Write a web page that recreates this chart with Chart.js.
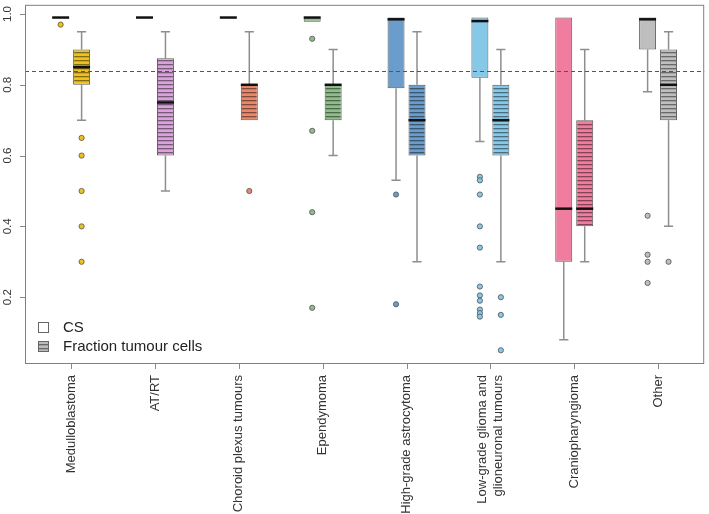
<!DOCTYPE html>
<html><head><meta charset="utf-8">
<script src="https://cdn.jsdelivr.net/npm/chart.js@4/dist/chart.umd.min.js"></script>
<style>html,body{margin:0;padding:0;background:#fff}canvas{display:block}</style>
</head><body>
<canvas id="c" width="709" height="514"></canvas>
<script>
// ---- data ----
const categories = ['Medulloblastoma', 'AT/RT', 'Choroid plexus tumours', 'Ependymoma',
  'High-grade astrocytoma', ['Low-grade glioma and', 'glioneuronal tumours'], 'Craniopharyngioma', 'Other'];
const colors = ['#EEC21E', '#D9A3D9', '#E9896C', '#8DBE8B', '#6A9DCB', '#85C8E8', '#F07CA0', '#BEBEBE'];

// CS series
const csLow    = [0.99, 0.99, 0.99, 0.978, 0.53, 0.64, 0.08, 0.78];
const csQ1     = [0.99, 0.99, 0.99, 0.978, 0.79, 0.82, 0.30, 0.90];
const csMedian = [0.99, 0.99, 0.99, 0.99, 0.985, 0.98, 0.45, 0.985];
const csQ3     = [0.99, 0.99, 0.99, 0.99, 0.99, 0.99, 0.99, 0.99];
const csHigh   = [0.99, 0.99, 0.99, 0.99, 0.99, 0.99, 0.99, 0.99];
const csOutliers = [[0.97], [], [], [0.93, 0.67, 0.44, 0.17], [0.49, 0.18],
  [0.54, 0.53, 0.49, 0.40, 0.34, 0.23, 0.205, 0.19, 0.165, 0.155, 0.145], [], [0.43, 0.32, 0.30, 0.24]];

// Fraction tumour cells series
const fracLow    = [0.70, 0.50, 0.70, 0.60, 0.30, 0.30, 0.30, 0.40];
const fracQ1     = [0.80, 0.60, 0.70, 0.70, 0.60, 0.60, 0.40, 0.70];
const fracMedian = [0.85, 0.75, 0.80, 0.80, 0.70, 0.70, 0.45, 0.80];
const fracQ3     = [0.90, 0.875, 0.80, 0.80, 0.80, 0.80, 0.70, 0.90];
const fracHigh   = [0.95, 0.95, 0.95, 0.90, 0.95, 0.90, 0.90, 0.95];
const fracOutliers = [[0.65, 0.60, 0.50, 0.40, 0.30], [], [0.50], [], [], [0.20, 0.15, 0.05], [], [0.30]];

const yTicks = [0.2, 0.4, 0.6, 0.8, 1.0];
const refLine = 0.84;
const legendLabels = ['CS', 'Fraction tumour cells'];

// ---- helpers ----
const FONT = '"Liberation Sans", Arial, Helvetica, sans-serif';
function hexRgb(h) { const n = parseInt(h.slice(1), 16); return [(n >> 16) & 255, (n >> 8) & 255, n & 255]; }
function hatch(color) {
  const c = document.createElement('canvas'); c.width = 4; c.height = 4;
  const g = c.getContext('2d');
  g.fillStyle = color; g.fillRect(0, 0, 4, 4);
  const [r, gg, b] = hexRgb(color);
  g.fillStyle = `rgb(${Math.round(r * 0.55)},${Math.round(gg * 0.55)},${Math.round(b * 0.55)})`;
  g.fillRect(0, 0, 4, 1.3);
  return g.createPattern(c, 'repeat');
}
function outlierPoints(list, off) {
  const pts = [], cols = [];
  list.forEach((arr, i) => arr.forEach(v => { pts.push({ x: i + off, y: v }); cols.push(colors[i]); }));
  return { pts, cols };
}
const csOut = outlierPoints(csOutliers, -0.125);
const frOut = outlierPoints(fracOutliers, 0.125);

const boxStats = [
  { low: csLow, q1: csQ1, med: csMedian, q3: csQ3, high: csHigh },
  { low: fracLow, q1: fracQ1, med: fracMedian, q3: fracQ3, high: fracHigh }
];

const boxPlugin = {
  id: 'boxParts',
  beforeDatasetsDraw(chart) {
    const ctx = chart.ctx, y = chart.scales.y;
    ctx.save();
    ctx.strokeStyle = '#8e8e8e'; ctx.lineWidth = 1.5;
    boxStats.forEach((s, d) => {
      const meta = chart.getDatasetMeta(d);
      meta.data.forEach((bar, i) => {
        const x = bar.x, hw = bar.width * 0.27;
        const seg = (a, b) => {
          if (Math.abs(a - b) < 1e-9) return;
          const pa = y.getPixelForValue(a), pb = y.getPixelForValue(b);
          ctx.beginPath(); ctx.moveTo(x, pa); ctx.lineTo(x, pb);
          ctx.moveTo(x - hw, pb); ctx.lineTo(x + hw, pb); ctx.stroke();
        };
        seg(s.q3[i], s.high[i]);
        seg(s.q1[i], s.low[i]);
      });
    });
    ctx.restore();
  },
  afterDatasetsDraw(chart) {
    const ctx = chart.ctx, y = chart.scales.y, x = chart.scales.x, a = chart.chartArea;
    ctx.save();
    // medians
    ctx.strokeStyle = '#111'; ctx.lineWidth = 2.5;
    boxStats.forEach((s, d) => {
      chart.getDatasetMeta(d).data.forEach((bar, i) => {
        const py = y.getPixelForValue(s.med[i]);
        ctx.beginPath(); ctx.moveTo(bar.x - bar.width / 2, py); ctx.lineTo(bar.x + bar.width / 2, py); ctx.stroke();
      });
    });
    // reference line
    ctx.strokeStyle = '#555'; ctx.lineWidth = 1; ctx.setLineDash([4, 3]);
    const ry = Math.round(y.getPixelForValue(refLine)) + 0.5;
    ctx.beginPath(); ctx.moveTo(a.left, ry); ctx.lineTo(a.right, ry); ctx.stroke();
    ctx.setLineDash([]);
    // plot frame
    ctx.strokeStyle = '#808080'; ctx.lineWidth = 1;
    ctx.strokeRect(a.left + 0.5, a.top + 0.5, a.right - a.left - 1, a.bottom - a.top);
    // tick marks
    ctx.strokeStyle = '#8a8a8a'; ctx.lineWidth = 1;
    ctx.beginPath();
    yTicks.forEach(v => { const py = Math.round(y.getPixelForValue(v)) + 0.5; ctx.moveTo(a.left - 5, py); ctx.lineTo(a.left, py); });
    categories.forEach((_, i) => { const px = Math.round(x.getPixelForValue(i)) + 0.5; ctx.moveTo(px, a.bottom); ctx.lineTo(px, a.bottom + 6); });
    ctx.stroke();
    // y tick labels (rotated)
    ctx.fillStyle = '#333'; ctx.font = '11.5px ' + FONT;
    ctx.textAlign = 'center'; ctx.textBaseline = 'alphabetic';
    yTicks.forEach(v => {
      ctx.save(); ctx.translate(a.left - 14, y.getPixelForValue(v)); ctx.rotate(-Math.PI / 2);
      ctx.fillText(v.toFixed(1), 0, 0); ctx.restore();
    });
    // x tick labels (rotated)
    ctx.font = '13px ' + FONT; ctx.textAlign = 'right'; ctx.textBaseline = 'middle';
    categories.forEach((lab, i) => {
      const lines = Array.isArray(lab) ? lab : [lab];
      const px = x.getPixelForValue(i), lh = 16;
      lines.forEach((t, k) => {
        ctx.save();
        ctx.translate(px + (k - (lines.length - 1) / 2) * lh, a.bottom + 12);
        ctx.rotate(-Math.PI / 2); ctx.fillText(t, 0, 0); ctx.restore();
      });
    });
    // legend
    const lx = a.left + 13, l1 = a.bottom - 36, l2 = a.bottom - 17;
    ctx.fillStyle = '#fff'; ctx.fillRect(lx, l1 - 5, 10, 10);
    ctx.fillStyle = hatch('#BBBBBB'); ctx.fillRect(lx, l2 - 5, 10, 10);
    ctx.strokeStyle = '#666'; ctx.lineWidth = 1;
    ctx.strokeRect(lx + 0.5, l1 - 4.5, 10, 10);
    ctx.strokeRect(lx + 0.5, l2 - 4.5, 10, 10);
    ctx.fillStyle = '#222'; ctx.font = '15px ' + FONT; ctx.textAlign = 'left'; ctx.textBaseline = 'middle';
    ctx.fillText(legendLabels[0], lx + 25, l1 + 1);
    ctx.fillText(legendLabels[1], lx + 25, l2 + 1);
    ctx.restore();
  }
};

new Chart(document.getElementById('c'), {
  type: 'bar',
  data: {
    datasets: [
      { type: 'bar', label: legendLabels[0],
        data: categories.map((_, i) => ({ x: i, y: [csQ1[i], csQ3[i]] })),
        backgroundColor: colors, borderColor: '#5a5a5a', borderWidth: 1, borderSkipped: false,
        categoryPercentage: 0.5, barPercentage: 0.81 },
      { type: 'bar', label: legendLabels[1],
        data: categories.map((_, i) => ({ x: i, y: [fracQ1[i], fracQ3[i]] })),
        backgroundColor: colors.map(hatch), borderColor: '#5a5a5a', borderWidth: 1, borderSkipped: false,
        categoryPercentage: 0.5, barPercentage: 0.81 },
      { type: 'scatter', label: 'CS outliers', data: csOut.pts,
        pointBackgroundColor: csOut.cols, pointBorderColor: '#505050', pointBorderWidth: 0.8, pointRadius: 2.6 },
      { type: 'scatter', label: 'Fraction outliers', data: frOut.pts,
        pointBackgroundColor: frOut.cols, pointBorderColor: '#505050', pointBorderWidth: 0.8, pointRadius: 2.6 }
    ]
  },
  options: {
    responsive: false, animation: false, devicePixelRatio: 1,
    layout: { padding: { left: 0, right: 3, top: 2, bottom: 0 } },
    plugins: { legend: { display: false }, tooltip: { enabled: false } },
    scales: {
      x: {
        type: 'linear', min: -0.55, max: 7.55, offset: false,
        grid: { display: false, offset: false },
        border: { display: false },
        ticks: { display: false },
        afterBuildTicks: s => { s.ticks = categories.map((_, i) => ({ value: i })); },
        afterFit: s => { s.height = 151; }
      },
      y: {
        type: 'linear', min: 0.014, max: 1.026,
        grid: { display: false },
        border: { display: false },
        ticks: { display: false },
        afterBuildTicks: s => { s.ticks = yTicks.map(v => ({ value: v })); },
        afterFit: s => { s.width = 25; }
      }
    }
  },
  plugins: [boxPlugin]
});
</script>
</body></html>
